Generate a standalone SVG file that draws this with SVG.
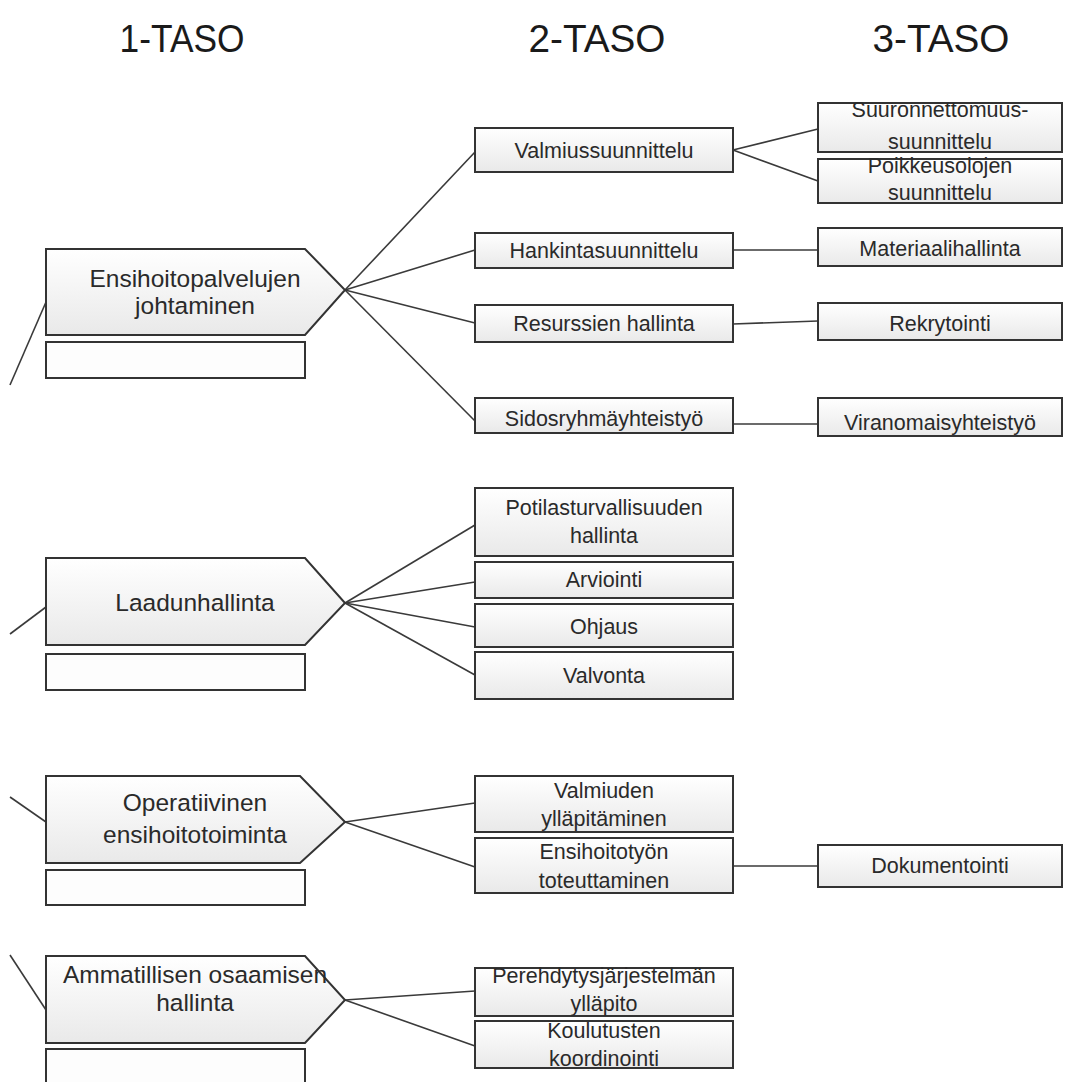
<svg xmlns="http://www.w3.org/2000/svg" width="1067" height="1082" viewBox="0 0 1067 1082">
  <defs>
    <linearGradient id="boxFill" x1="0" y1="0" x2="0" y2="1">
      <stop offset="0" stop-color="#ffffff"/>
      <stop offset="1" stop-color="#e9e9e9"/>
    </linearGradient>
    <style>
      .box { fill: url(#boxFill); stroke: #333; stroke-width: 2; }
      .note { fill: #fdfdfd; stroke: #333; stroke-width: 2; }
      .link { fill: none; stroke: #3a3a3a; stroke-width: 1.6; }
      .t1 { font-family: "Liberation Sans", Arial, sans-serif; font-size: 24.5px; fill: #2a2a2a; text-anchor: middle; }
      .t2 { font-family: "Liberation Sans", Arial, sans-serif; font-size: 21.5px; fill: #2a2a2a; text-anchor: middle; }
      .hdr { font-family: "Liberation Sans", Arial, sans-serif; font-size: 38px; fill: #1a1a1a; text-anchor: middle; }
    </style>
  </defs>
  <rect width="1067" height="1082" fill="#ffffff"/>

  <!-- column headings -->
  <g id="headings">
    <text class="hdr" x="182" y="52" textLength="125" lengthAdjust="spacingAndGlyphs">1-TASO</text>
    <text class="hdr" x="597" y="52" textLength="137" lengthAdjust="spacingAndGlyphs">2-TASO</text>
    <text class="hdr" x="941" y="52" textLength="137" lengthAdjust="spacingAndGlyphs">3-TASO</text>
  </g>

  <!-- connectors -->
  <g id="connectors">
    <!-- incoming lines from the left edge -->
    <line class="link" x1="46" y1="302" x2="10" y2="385"/>
    <line class="link" x1="46" y1="607" x2="10" y2="634"/>
    <line class="link" x1="46" y1="822" x2="10" y2="797"/>
    <line class="link" x1="46" y1="1010" x2="10" y2="955"/>
    <!-- level 1 to level 2 -->
    <line class="link" x1="345" y1="290" x2="475" y2="152"/>
    <line class="link" x1="345" y1="290" x2="475" y2="250"/>
    <line class="link" x1="345" y1="290" x2="475" y2="323"/>
    <line class="link" x1="345" y1="290" x2="475" y2="421"/>
    <line class="link" x1="345" y1="603" x2="475" y2="525"/>
    <line class="link" x1="345" y1="603" x2="475" y2="582"/>
    <line class="link" x1="345" y1="603" x2="475" y2="627"/>
    <line class="link" x1="345" y1="603" x2="475" y2="675"/>
    <line class="link" x1="345" y1="822" x2="475" y2="803"/>
    <line class="link" x1="345" y1="822" x2="475" y2="867"/>
    <line class="link" x1="345" y1="1000" x2="475" y2="991"/>
    <line class="link" x1="345" y1="1000" x2="475" y2="1046"/>
    <!-- level 2 to level 3 -->
    <line class="link" x1="733" y1="150" x2="818" y2="129"/>
    <line class="link" x1="733" y1="150" x2="818" y2="181"/>
    <line class="link" x1="733" y1="250" x2="818" y2="250"/>
    <line class="link" x1="733" y1="324" x2="818" y2="321"/>
    <line class="link" x1="733" y1="424" x2="818" y2="424"/>
    <line class="link" x1="733" y1="866" x2="818" y2="866"/>
  </g>

  <!-- level 1 nodes -->
  <g id="n-ensihoitopalvelujen">
    <path class="box" d="M46 249 H305 L345 290 L305 335 H46 Z"/>
    <rect class="note" x="46" y="342" width="259" height="36"/>
    <text class="t1" x="195" y="287">Ensihoitopalvelujen</text>
    <text class="t1" x="195" y="314">johtaminen</text>
  </g>
  <g id="n-laadunhallinta">
    <path class="box" d="M46 558 H305 L345 603 L305 645 H46 Z"/>
    <rect class="note" x="46" y="654" width="259" height="36"/>
    <text class="t1" x="195" y="611">Laadunhallinta</text>
  </g>
  <g id="n-operatiivinen">
    <path class="box" d="M46 776 H300 L345 822 L300 863 H46 Z"/>
    <rect class="note" x="46" y="870" width="259" height="35"/>
    <text class="t1" x="195" y="811">Operatiivinen</text>
    <text class="t1" x="195" y="843">ensihoitotoiminta</text>
  </g>
  <g id="n-ammatillisen">
    <path class="box" d="M46 956 H305 L345 1000 L305 1043 H46 Z"/>
    <rect class="note" x="46" y="1049" width="259" height="40"/>
    <text class="t1" x="195" y="983">Ammatillisen osaamisen</text>
    <text class="t1" x="195" y="1011">hallinta</text>
  </g>

  <!-- level 2 nodes -->
  <g id="n-valmiussuunnittelu">
    <rect class="box" x="475" y="128" width="258" height="44"/>
    <text class="t2" x="604" y="158">Valmiussuunnittelu</text>
  </g>
  <g id="n-hankintasuunnittelu">
    <rect class="box" x="475" y="233" width="258" height="35"/>
    <text class="t2" x="604" y="258">Hankintasuunnittelu</text>
  </g>
  <g id="n-resurssien">
    <rect class="box" x="475" y="305" width="258" height="37"/>
    <text class="t2" x="604" y="331">Resurssien hallinta</text>
  </g>
  <g id="n-sidosryhma">
    <rect class="box" x="475" y="398" width="258" height="35"/>
    <text class="t2" x="604" y="426">Sidosryhmäyhteistyö</text>
  </g>
  <g id="n-potilasturvallisuus">
    <rect class="box" x="475" y="488" width="258" height="68"/>
    <text class="t2" x="604" y="515">Potilasturvallisuuden</text>
    <text class="t2" x="604" y="543">hallinta</text>
  </g>
  <g id="n-arviointi">
    <rect class="box" x="475" y="562" width="258" height="36"/>
    <text class="t2" x="604" y="587">Arviointi</text>
  </g>
  <g id="n-ohjaus">
    <rect class="box" x="475" y="604" width="258" height="43"/>
    <text class="t2" x="604" y="634">Ohjaus</text>
  </g>
  <g id="n-valvonta">
    <rect class="box" x="475" y="652" width="258" height="47"/>
    <text class="t2" x="604" y="683">Valvonta</text>
  </g>
  <g id="n-valmiuden">
    <rect class="box" x="475" y="776" width="258" height="56"/>
    <text class="t2" x="604" y="798">Valmiuden</text>
    <text class="t2" x="604" y="826">ylläpitäminen</text>
  </g>
  <g id="n-ensihoitotyon">
    <rect class="box" x="475" y="838" width="258" height="55"/>
    <text class="t2" x="604" y="859">Ensihoitotyön</text>
    <text class="t2" x="604" y="888">toteuttaminen</text>
  </g>
  <g id="n-perehdytys">
    <rect class="box" x="475" y="968" width="258" height="48"/>
    <text class="t2" x="604" y="983">Perehdytysjärjestelmän</text>
    <text class="t2" x="604" y="1011">ylläpito</text>
  </g>
  <g id="n-koulutusten">
    <rect class="box" x="475" y="1021" width="258" height="47"/>
    <text class="t2" x="604" y="1038">Koulutusten</text>
    <text class="t2" x="604" y="1066">koordinointi</text>
  </g>

  <!-- level 3 nodes -->
  <g id="n-suuronnettomuus">
    <rect class="box" x="818" y="103" width="244" height="49"/>
    <text class="t2" x="940" y="117">Suuronnettomuus-</text>
    <text class="t2" x="940" y="149">suunnittelu</text>
  </g>
  <g id="n-poikkeusolot">
    <rect class="box" x="818" y="159" width="244" height="44"/>
    <text class="t2" x="940" y="173">Poikkeusolojen</text>
    <text class="t2" x="940" y="200">suunnittelu</text>
  </g>
  <g id="n-materiaalihallinta">
    <rect class="box" x="818" y="228" width="244" height="38"/>
    <text class="t2" x="940" y="256">Materiaalihallinta</text>
  </g>
  <g id="n-rekrytointi">
    <rect class="box" x="818" y="303" width="244" height="37"/>
    <text class="t2" x="940" y="331">Rekrytointi</text>
  </g>
  <g id="n-viranomais">
    <rect class="box" x="818" y="398" width="244" height="38"/>
    <text class="t2" x="940" y="430">Viranomaisyhteistyö</text>
  </g>
  <g id="n-dokumentointi">
    <rect class="box" x="818" y="845" width="244" height="42"/>
    <text class="t2" x="940" y="873">Dokumentointi</text>
  </g>
</svg>
